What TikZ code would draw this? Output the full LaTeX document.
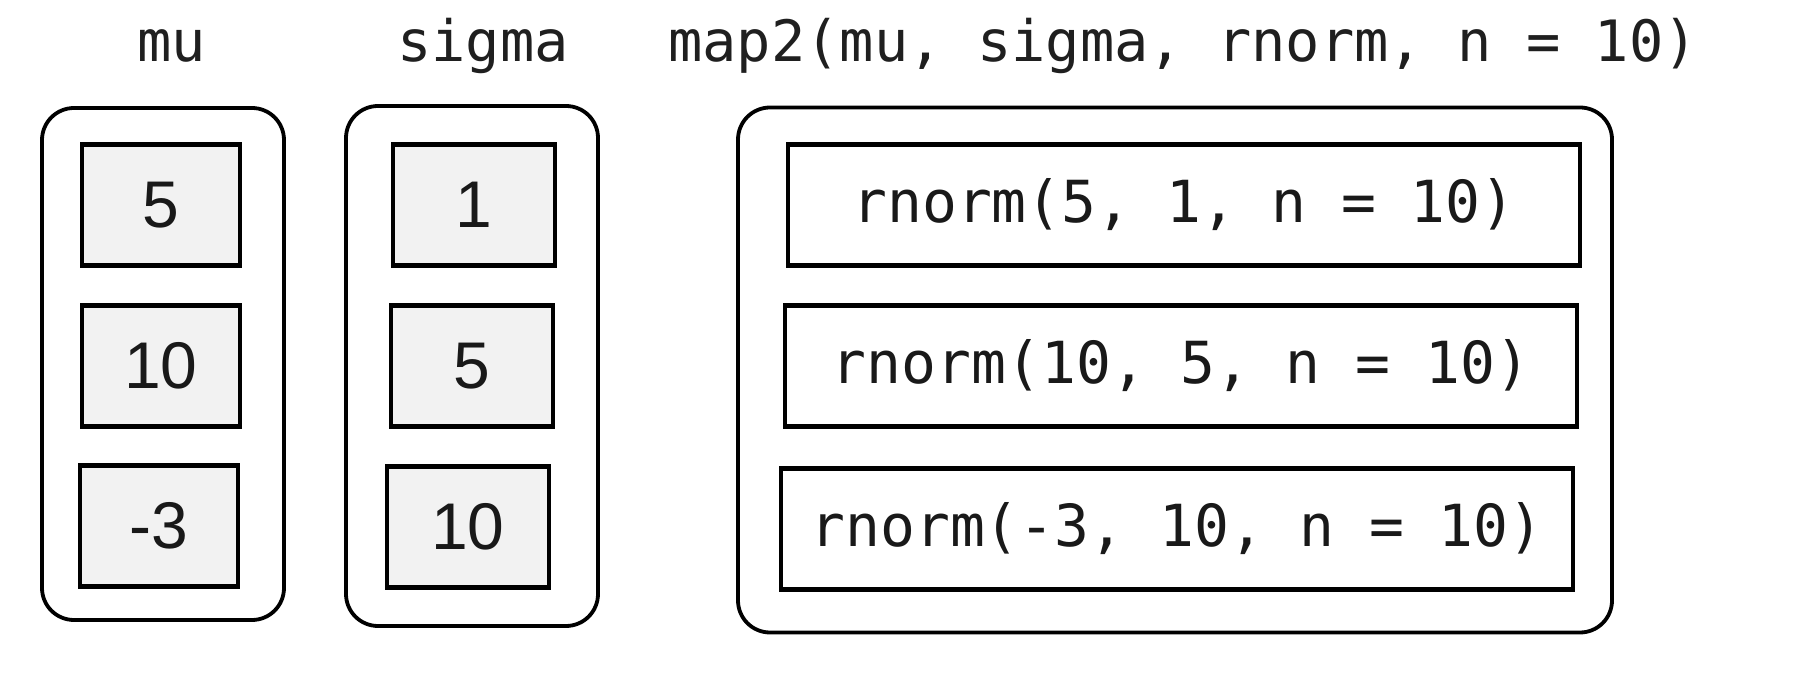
\documentclass[tikz,border=0pt]{standalone}
\usepackage{fontspec}
\setmainfont{Liberation Sans}
\newfontfamily\codefont{DejaVu Sans Mono}
\begin{document}
\begin{tikzpicture}[x=1pt,y=-1pt,
  outerbox/.style={draw=black, line width=3.8pt, rounded corners=32pt, inner sep=0pt, outer sep=0pt},
  cellbox/.style={draw=black, line width=4.5pt, inner sep=0pt, outer sep=0pt, minimum height=121pt,
    font=\fontsize{66}{68}\selectfont, text=black!90},
  numcell/.style={cellbox, fill=black!5, minimum width=158pt},
  callcell/.style={cellbox, fill=white, minimum width=792pt, font=\codefont\fontsize{58}{60}\selectfont},
  headlbl/.style={anchor=base, font=\codefont\fontsize{57}{60}\selectfont, text=black!88, inner sep=0pt}]
\useasboundingbox[fill=white] (0,0) rectangle (1816,684);

% headings
\node[headlbl] (hmu) at (172,62) {mu};
\node[headlbl] (hsigma) at (483,62) {sigma};
\node[headlbl] (hmap) at (1183,62) {map2(mu, sigma, rnorm, n = 10)};

% outer containers
\node[outerbox, minimum width=242pt, minimum height=512pt] (omu) at (163,364) {};
\node[outerbox, minimum width=252pt, minimum height=520pt] (osigma) at (472,366) {};
\node[outerbox, minimum width=874pt, minimum height=525pt] (omap) at (1175,370) {};

% mu cells
\node[numcell] (mu1) at (161,205) {5};
\node[numcell] (mu2) at (161,366) {10};
\node[numcell] (mu3) at (159,526) {-3};

% sigma cells
\node[numcell, minimum width=162pt] (sg1) at (474,205) {1};
\node[numcell, minimum width=162pt] (sg2) at (472,366) {5};
\node[numcell, minimum width=162pt] (sg3) at (468,527) {10};

% map2 results
\node[callcell] (r1) at (1184,205) {rnorm(5, 1, n = 10)};
\node[callcell] (r2) at (1181,366) {rnorm(10, 5, n = 10)};
\node[callcell] (r3) at (1177,529) {rnorm(-3, 10, n = 10)};
\end{tikzpicture}
\end{document}
